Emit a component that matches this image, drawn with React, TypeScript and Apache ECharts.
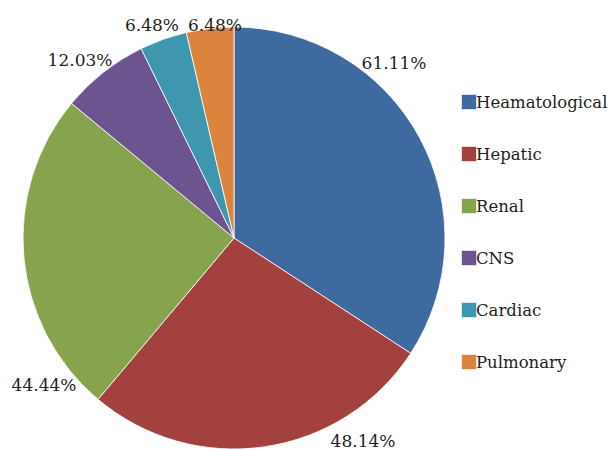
import React, { useEffect, useRef } from "react";
import * as echarts from "echarts";

const categories = ["Heamatological", "Hepatic", "Renal", "CNS", "Cardiac", "Pulmonary"];
const values = [61.11, 48.14, 44.44, 12.03, 6.48, 6.48];
const colors = ["#3F6A9F", "#A3413F", "#88A34E", "#6C5490", "#3E97AE", "#DB843D"];
// label anchor positions (Excel best-fit placement), indexed like categories
const labelX = [394, 363, 44, 80, 152, 215];
const labelY = [63, 441, 385, 60, 25, 25];

const FONT = "DejaVu Serif";

export default function App() {
  const ref = useRef<HTMLDivElement>(null);
  useEffect(() => {
    if (!ref.current) return;
    const chart = echarts.init(ref.current, null, { renderer: "svg" });
    chart.setOption({
      animation: false,
      backgroundColor: "#ffffff",
      color: colors,
      textStyle: { fontFamily: FONT },
      legend: {
        orient: "vertical",
        left: 455,
        top: 86,
        itemWidth: 16,
        itemHeight: 16,
        itemGap: 30,
        icon: "rect",
        textStyle: {
          fontFamily: FONT,
          fontSize: 16.5,
          lineHeight: 22,
          color: "#231f20",
          padding: [0, 0, 0, -6],
        },
        data: categories,
      },
      series: [
        {
          type: "pie",
          center: [234, 238],
          radius: 211,
          startAngle: 90,
          clockwise: true,
          avoidLabelOverlap: false,
          itemStyle: { borderColor: "rgba(255,255,255,0.8)", borderWidth: 1 },
          label: {
            show: true,
            position: "outside",
            fontFamily: FONT,
            fontSize: 17,
            color: "#231f20",
            formatter: (p: any) => p.value.toFixed(2) + "%",
          },
          labelLine: { show: false },
          labelLayout: (p: any) => ({
            x: labelX[p.dataIndex],
            y: labelY[p.dataIndex],
            align: "center",
            verticalAlign: "middle",
          }),
          data: categories.map((name, i) => ({ name, value: values[i] })),
        },
      ],
    });
    return () => chart.dispose();
  }, []);
  return <div ref={ref} style={{ width: 611, height: 450, position: "absolute", left: 0, top: 0 }} />;
}
